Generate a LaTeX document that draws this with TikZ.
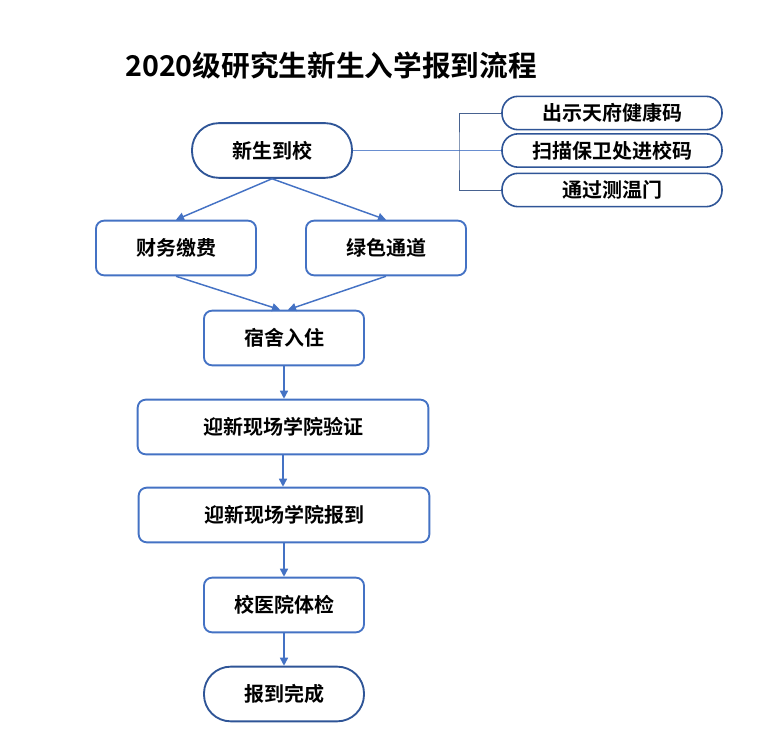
\documentclass[tikz,border=0pt]{standalone}
\usepackage{fontspec}
\setmainfont{Noto Sans CJK SC}[BoldFont={Noto Sans CJK SC Bold}]
\definecolor{flowblue}{HTML}{4472C4}
\definecolor{flowdark}{HTML}{2F5597}
\usetikzlibrary{arrows.meta,positioning}

\begin{document}
\begin{tikzpicture}[
  x=0.75pt, y=-0.75pt,
  stage/.style={draw=flowblue, line width=1.4pt, fill=white, rounded corners=6pt,
    font=\fontsize{15}{18}\selectfont\bfseries, minimum width=120pt,
    minimum height=41pt, align=center},
  pill/.style={stage, draw=flowdark, rounded corners=20pt},
  check/.style={draw=flowdark, line width=1.2pt, fill=white, rounded corners=12pt,
    font=\fontsize{15}{18}\selectfont\bfseries, minimum width=165pt,
    minimum height=25pt, inner sep=1pt},
  arr/.style={-{Triangle[length=6pt,width=6pt]}, line width=1.1pt, flowblue},
  brk/.style={line width=0.6pt, #1}
]
  \useasboundingbox (0,0) rectangle (768,737);

  % Title
  \node[font=\fontsize{21.5}{26}\selectfont\bfseries] (title) at (331,66) {2020级研究生新生入学报到流程};

  % Main flow
  \node[pill] (arrive) at (272,150.5) {新生到校};
  \node[stage] (finance) at (176,248) {财务缴费};
  \node[stage] (green) at (386,248) {绿色通道};
  \node[stage] (dorm) at (284,338) {宿舍入住};
  \node[stage, minimum width=218pt] (verify) at (283,427) {迎新现场学院验证};
  \node[stage, minimum width=218pt] (report) at (284,515) {迎新现场学院报到};
  \node[stage] (health) at (284,605) {校医院体检};
  \node[pill] (done) at (284,694) {报到完成};

  % Entry checks
  \node[check] (code) at (612,113) {出示天府健康码};
  \node[check] (scan) at (612,150.5) {扫描保卫处进校码};
  \node[check] (temp) at (612,190) {通过测温门};
  \coordinate (fork) at (459,150.5);

  % Arrows
  \draw[arr] (arrive.south) -- (finance.north);
  \draw[arr] (arrive.south) -- (green.north);
  \draw[arr] (finance.south) -- ([xshift=-3pt]dorm.north);
  \draw[arr] (green.south) -- ([xshift=3pt]dorm.north);
  \draw[arr] (dorm.south) -- (dorm.south |- verify.north);
  \draw[arr] (verify.south) -- (verify.south |- report.north);
  \draw[arr] (report.south) -- (report.south |- health.north);
  \draw[arr] (health.south) -- (done.north);

  % Bracket to the checks
  \draw[brk=flowblue!80] (arrive.east) -- (scan.west);
  \draw[brk=flowdark!70!gray] (code.west) -| (fork) |- (temp.west);
\end{tikzpicture}
\end{document}
